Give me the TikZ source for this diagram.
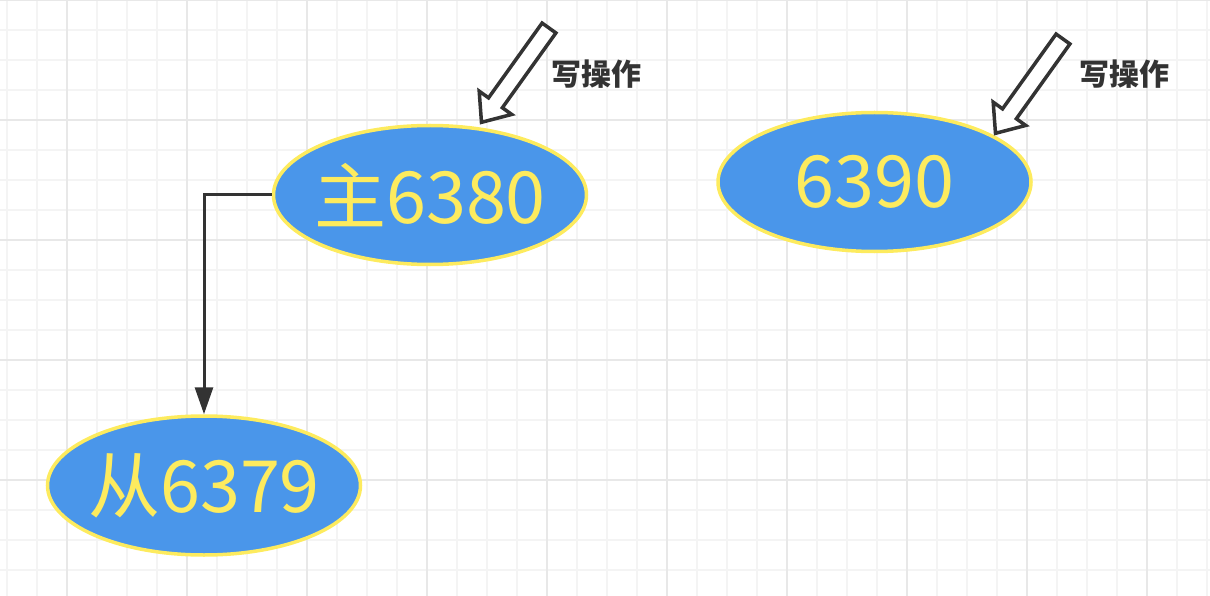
\documentclass[tikz,border=0pt]{standalone}
\usepackage{fontspec}
\newfontfamily\cjk{Noto Sans CJK SC}
\usetikzlibrary{arrows.meta,shapes.geometric,positioning}
\definecolor{nodeblue}{HTML}{4A96EA}
\definecolor{nodeyellow}{HTML}{FDEB5E}
\definecolor{lineblack}{HTML}{333333}
\definecolor{gridminor}{HTML}{F4F4F4}
\definecolor{gridmajor}{HTML}{E8E8E8}

\begin{document}
\begin{tikzpicture}[x=1pt,y=-1pt,
        redis/.style={ellipse, draw=nodeyellow, fill=nodeblue, line width=3.5pt,
            minimum width=313pt, minimum height=139pt, inner xsep=-30pt, inner ysep=0pt,
            text=nodeyellow, font=\cjk\fontsize{72}{72}\selectfont},
        wrlabel/.style={text=lineblack, font=\cjk\bfseries\fontsize{30}{30}\selectfont},
        wrarrow/.style={draw=lineblack, fill=white, line width=3.5pt, line join=miter}]
        \useasboundingbox (0,0) rectangle (1210,596);

        % Grid
        \foreach \i in {0,...,40}
            \draw[gridminor, line width=2pt] (6.7+30*\i,0) -- ++(0,596);
        \foreach \i in {0,...,19}
            \draw[gridminor, line width=2pt] (0,30*\i) -- ++(1210,0);
        \foreach \i in {0,...,9}
            \draw[gridmajor, line width=2pt] (66.7+120*\i,0) -- ++(0,596);
        \foreach \i in {0,...,4}
            \draw[gridmajor, line width=2pt] (0,120*\i) -- ++(1210,0);

        % Place nodes
        \node [redis] at (430,195) (master) {主6380};
        \node [redis, right=128pt of master, yshift=13pt] (other) {6390};
        \node [redis, below=148pt of master, xshift=-226pt] (slave) {从6379};

        % Write arrows
        \draw[wrarrow, shift={(549,28)}, rotate=234.4]
            (0,8.5) -- (92,8.5) -- (92,20) -- (116,0) -- (92,-20) -- (92,-8.5) -- (0,-8.5) -- cycle;
        \draw[wrarrow, shift={(1063,39)}, rotate=234.4]
            (0,8.5) -- (92,8.5) -- (92,20) -- (116,0) -- (92,-20) -- (92,-8.5) -- (0,-8.5) -- cycle;
        \node [wrlabel] at (596,74) (wr1) {写操作};
        \node [wrlabel] at (1124,74) (wr2) {写操作};

        % Draw edges
        \draw[lineblack, line width=3pt, -{Triangle[length=27pt,width=18pt]}]
            (master.west) -| (slave.north);
    \end{tikzpicture}
\end{document}
